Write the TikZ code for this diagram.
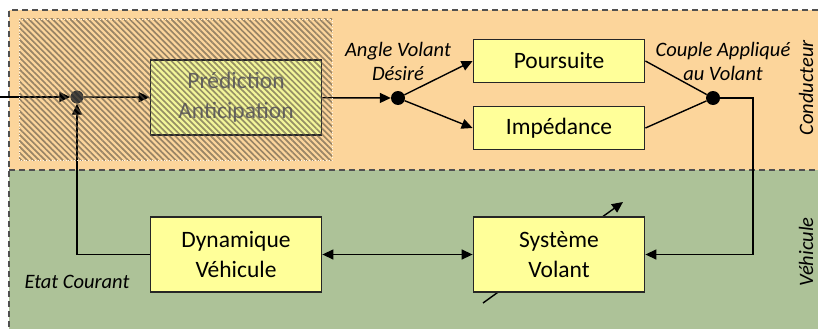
\documentclass[tikz,border=0pt]{standalone}
\usepackage{fontspec}
\setmainfont{Carlito}
\usetikzlibrary{patterns.meta,arrows.meta}
\definecolor{conduc}{RGB}{252,213,155}
\definecolor{vehic}{RGB}{173,194,152}
\definecolor{boxy}{RGB}{255,255,153}
\definecolor{hatchc}{RGB}{95,85,70}
\definecolor{frame}{RGB}{80,80,80}
\begin{document}
\begin{tikzpicture}[x=1pt,y=-1pt,
  blk/.style={draw=black!85, fill=boxy, line width=1.8pt, minimum width=171pt, align=center,
    font=\fontsize{23.5}{30}\selectfont, inner sep=2pt},
  dot/.style={circle, fill=black, inner sep=0pt, minimum size=14pt},
  lbl/.style={font=\fontsize{20.5}{24}\selectfont\itshape, align=center},
  conn/.style={line width=1.4pt, black},
  arr/.style={conn, -{Triangle[length=11pt,width=10pt]}},
  darr/.style={conn, {Triangle[length=11pt,width=10pt]}-{Triangle[length=11pt,width=10pt]}},
  sep/.style={line width=1.6pt, frame, dash pattern=on 6pt off 4pt}]
\useasboundingbox (0,0) rectangle (818,329);
% regions
\fill[conduc] (9,10) rectangle (818,170);
\fill[vehic] (9,170) rectangle (818,329);
\draw[sep] (818,10) -- (9,10) -- (9,329);
\draw[sep] (9,170) -- (818,170);
% region labels
\node[lbl, rotate=90, inner sep=0pt] (lcond) at (806,88) {Conducteur};
\node[lbl, rotate=90, inner sep=0pt] (lveh) at (806,252) {Véhicule};
% blocks
\node[blk, minimum height=75pt, text=black!60, fill=boxy!85!vehic] (pred) at (236,97.5) {Prédiction\\Anticipation};
\node[blk, minimum height=43pt] (pour) at (559,61) {Poursuite};
\node[blk, minimum height=43pt] (imp) at (559,128) {Impédance};
\node[blk, minimum height=75pt] (dyn) at (236,254.5) {Dynamique\\Véhicule};
% diagonal arrow behind Systeme Volant
\coordinate (d1) at (483,303);
\coordinate (d2) at (623,202);
\draw[arr] (d1) -- (d2);
\node[blk, minimum height=75pt] (sys) at (559,254.5) {Système\\Volant};
% junctions
\node[dot, minimum size=13pt, fill=black!80] (c1) at (77,97) {};
\node[dot] (c2) at (398,98) {};
\node[dot] (c3) at (713,98) {};
\coordinate (in) at (0,97);
\coordinate (k1) at (753,98);
\coordinate (k3) at (77,254.5);
% connectors
\draw[arr] (in) -- (c1);
\draw[arr] (c1) -- (pred);
\draw[arr] (pred) -- (c2);
\draw[arr] (c2) -- (pour.west);
\draw[arr] (c2) -- (imp.west);
\draw[conn] (pour.east) -- (c3);
\draw[conn] (imp.east) -- (c3);
\draw[arr] (c3) -- (k1) |- (sys.east);
\draw[arr] (dyn.west) -- (k3) -- (c1);
\draw[darr] (dyn) -- (sys);
% labels
\node[lbl] (lang) at (398,61) {Angle Volant\\Désiré};
\node[lbl] (lcoup) at (723,61) {Couple Appliqué\\au Volant};
\node[lbl, anchor=west] (letat) at (21,282) {Etat Courant};
% hatched overlay
\fill[pattern={Lines[angle=-45,distance=4.2pt,line width=1.7pt]}, pattern color=hatchc, opacity=0.62] (19,19) rectangle (332,160);
\draw[white!80!conduc, line width=0.8pt, dotted] (19,19) rectangle (332,160);
\end{tikzpicture}
\end{document}
